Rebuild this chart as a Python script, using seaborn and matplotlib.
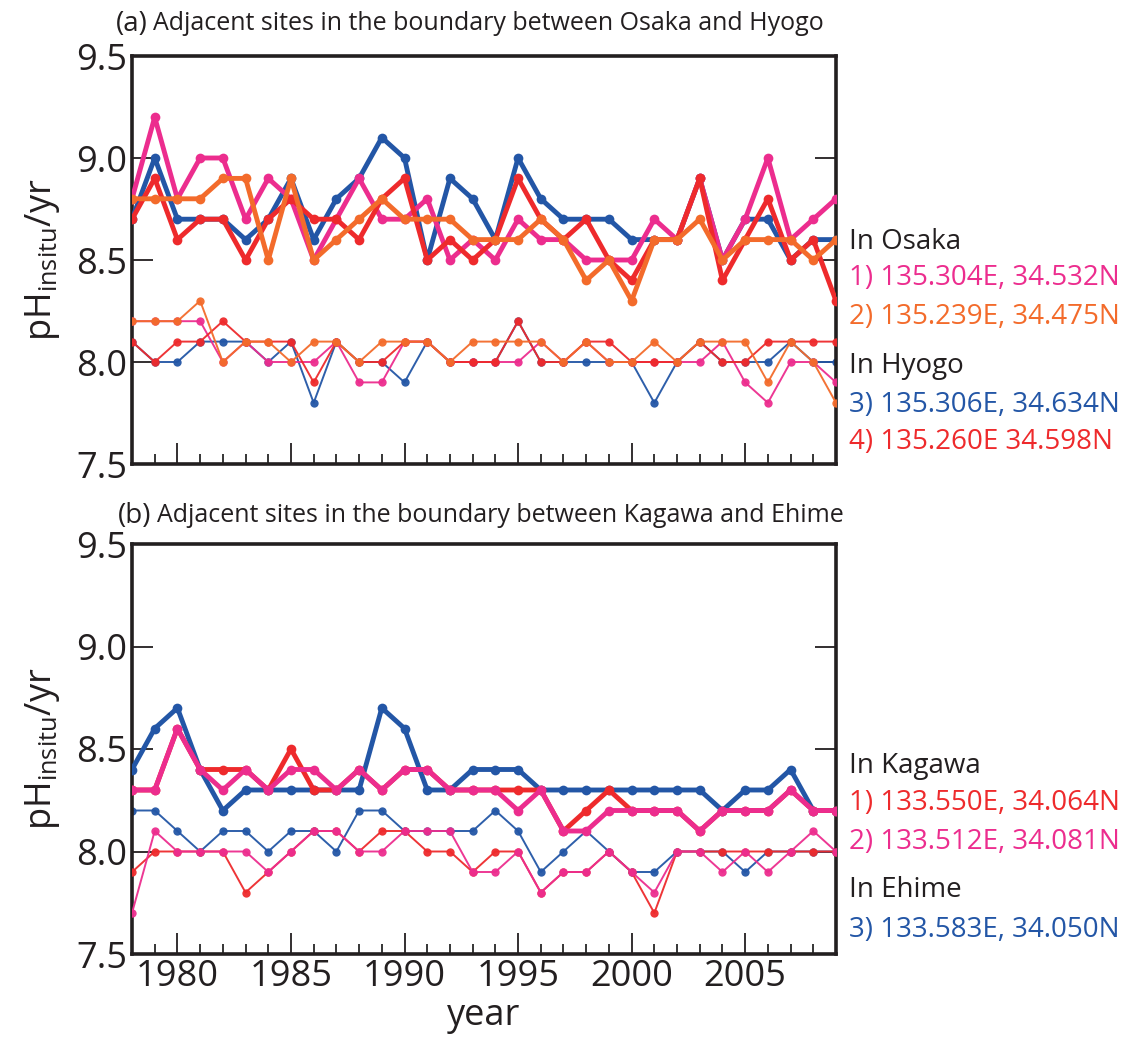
import numpy as np
import pandas as pd
import matplotlib
matplotlib.use("Agg")
import matplotlib.pyplot as plt
import seaborn as sns
from matplotlib.ticker import MultipleLocator

years = list(range(1978, 2010))

# ---- (a) Osaka / Hyogo boundary: upper (max) and lower (min) pH series ----
osaka1_max = [8.8, 9.2, 8.8, 9.0, 9.0, 8.7, 8.9, 8.8, 8.5, 8.7,
              8.9, 8.7, 8.7, 8.8, 8.5, 8.6, 8.5, 8.7, 8.6, 8.6,
              8.5, 8.5, 8.5, 8.7, 8.6, 8.9, 8.5, 8.7, 9.0, 8.6, 8.7, 8.8]
osaka2_max = [8.8, 8.8, 8.8, 8.8, 8.9, 8.9, 8.5, 8.9, 8.5, 8.6,
              8.7, 8.8, 8.7, 8.7, 8.7, 8.6, 8.6, 8.6, 8.7, 8.6,
              8.4, 8.5, 8.3, 8.6, 8.6, 8.7, 8.5, 8.6, 8.6, 8.6, 8.5, 8.6]
hyogo3_max = [8.7, 9.0, 8.7, 8.7, 8.7, 8.6, 8.7, 8.9, 8.6, 8.8,
              8.9, 9.1, 9.0, 8.5, 8.9, 8.8, 8.6, 9.0, 8.8, 8.7,
              8.7, 8.7, 8.6, 8.6, 8.6, 8.9, 8.5, 8.7, 8.7, 8.5, 8.6, 8.6]
hyogo4_max = [8.7, 8.9, 8.6, 8.7, 8.7, 8.5, 8.7, 8.8, 8.7, 8.7,
              8.6, 8.8, 8.9, 8.5, 8.6, 8.5, 8.6, 8.9, 8.7, 8.6,
              8.7, 8.5, 8.4, 8.6, 8.6, 8.9, 8.4, 8.6, 8.8, 8.5, 8.6, 8.3]

osaka1_min = [8.2, 8.2, 8.2, 8.2, 8.0, 8.1, 8.0, 8.0, 8.0, 8.1,
              7.9, 7.9, 8.1, 8.1, 8.0, 8.0, 8.0, 8.0, 8.1, 8.0,
              8.1, 8.0, 8.0, 8.0, 8.0, 8.0, 8.1, 7.9, 7.8, 8.0, 8.0, 7.9]
osaka2_min = [8.2, 8.2, 8.2, 8.3, 8.0, 8.1, 8.1, 8.0, 8.1, 8.1,
              8.0, 8.1, 8.1, 8.1, 8.0, 8.1, 8.1, 8.1, 8.1, 8.0,
              8.1, 8.0, 8.0, 8.1, 8.0, 8.1, 8.1, 8.1, 7.9, 8.1, 8.0, 7.8]
hyogo3_min = [8.1, 8.0, 8.0, 8.1, 8.1, 8.1, 8.0, 8.1, 7.8, 8.1,
              8.0, 8.0, 7.9, 8.1, 8.0, 8.0, 8.0, 8.2, 8.0, 8.0,
              8.0, 8.0, 8.0, 7.8, 8.0, 8.1, 8.0, 8.0, 8.0, 8.1, 8.0, 8.0]
hyogo4_min = [8.1, 8.0, 8.1, 8.1, 8.2, 8.1, 8.1, 8.1, 7.9, 8.1,
              8.0, 8.0, 8.1, 8.1, 8.0, 8.0, 8.0, 8.2, 8.0, 8.0,
              8.1, 8.1, 8.0, 8.0, 8.0, 8.1, 8.0, 8.0, 8.1, 8.1, 8.1, 8.1]

# ---- (b) Kagawa / Ehime boundary ----
kagawa1_max = [8.3, 8.3, 8.6, 8.4, 8.4, 8.4, 8.3, 8.5, 8.3, 8.3,
               8.4, 8.3, 8.4, 8.4, 8.3, 8.3, 8.3, 8.3, 8.3, 8.1,
               8.2, 8.3, 8.2, 8.2, 8.2, 8.1, 8.2, 8.2, 8.2, 8.3, 8.2, 8.2]
kagawa2_max = [8.3, 8.3, 8.6, 8.4, 8.3, 8.4, 8.3, 8.4, 8.4, 8.3,
               8.4, 8.3, 8.4, 8.4, 8.3, 8.3, 8.3, 8.2, 8.3, 8.1,
               8.1, 8.2, 8.2, 8.2, 8.2, 8.1, 8.2, 8.2, 8.2, 8.3, 8.2, 8.2]
ehime3_max = [8.4, 8.6, 8.7, 8.4, 8.2, 8.3, 8.3, 8.3, 8.3, 8.3,
              8.3, 8.7, 8.6, 8.3, 8.3, 8.4, 8.4, 8.4, 8.3, 8.3,
              8.3, 8.3, 8.3, 8.3, 8.3, 8.3, 8.2, 8.3, 8.3, 8.4, 8.2, 8.2]

kagawa1_min = [7.9, 8.0, 8.0, 8.0, 8.0, 7.8, 7.9, 8.0, 8.1, 8.1,
               8.0, 8.1, 8.1, 8.0, 8.0, 7.9, 8.0, 8.0, 7.8, 7.9,
               7.9, 8.0, 7.9, 7.7, 8.0, 8.0, 8.0, 8.0, 8.0, 8.0, 8.0, 8.0]
kagawa2_min = [7.7, 8.1, 8.0, 8.0, 8.0, 8.0, 7.9, 8.0, 8.1, 8.1,
               8.0, 8.0, 8.1, 8.1, 8.1, 7.9, 7.9, 8.0, 7.8, 7.9,
               7.9, 8.0, 7.9, 7.8, 8.0, 8.0, 7.9, 8.0, 7.9, 8.0, 8.1, 8.0]
ehime3_min = [8.2, 8.2, 8.1, 8.0, 8.1, 8.1, 8.0, 8.1, 8.1, 8.0,
              8.2, 8.2, 8.1, 8.1, 8.1, 8.1, 8.2, 8.1, 7.9, 8.0,
              8.1, 8.0, 7.9, 7.9, 8.0, 8.0, 8.0, 7.9, 8.0, 8.0, 8.0, 8.0]

PINK = "#ec2d8e"
ORANGE = "#f36b2b"
BLUE = "#2356a6"
RED = "#ee2a2c"
INK = "#231f20"

sns.set_style("ticks")
FONT = ["Open Sans", "DejaVu Sans"]
plt.rcParams["font.family"] = FONT
plt.rcParams["mathtext.fontset"] = "custom"
plt.rcParams["mathtext.rm"] = "Open Sans"
plt.rcParams["mathtext.it"] = "Open Sans:italic"

W, H = 1134, 1044
fig = plt.figure(figsize=(W / 100, H / 100), dpi=100)


def px_axes(left, top, right, bottom):
    return fig.add_axes([left / W, 1 - bottom / H, (right - left) / W, (bottom - top) / H])


def draw(ax, vals, color, thick, z):
    df = pd.DataFrame({"year": years, "pH": vals})
    if thick:
        sns.lineplot(data=df, x="year", y="pH", ax=ax, color=color, lw=3.5,
                     marker="o", markersize=7, markeredgewidth=0, zorder=z)
    else:
        sns.lineplot(data=df, x="year", y="pH", ax=ax, color=color, lw=1.4,
                     marker="o", markersize=6, markeredgewidth=0, zorder=z,
                     alpha=0.95)


def style(ax, show_x):
    ax.set_xlim(1978, 2009)
    ax.set_ylim(7.5, 9.5)
    ax.yaxis.set_major_locator(MultipleLocator(0.5))
    ax.xaxis.set_major_locator(MultipleLocator(5))
    ax.xaxis.set_minor_locator(MultipleLocator(1))
    ax.tick_params(axis="both", which="major", direction="in", length=15,
                   width=1.3, labelsize=26, colors=INK)
    ax.tick_params(axis="x", which="minor", direction="in", length=7,
                   width=1.3, bottom=True)
    ax.tick_params(axis="y", right=True)
    ax.yaxis.set_major_formatter(matplotlib.ticker.FormatStrFormatter("%.1f"))
    for s in ax.spines.values():
        s.set_visible(True)
        s.set_linewidth(2.6)
        s.set_color(INK)
    ax.set_ylabel(r"pH$_{\mathrm{insitu}}$/yr", fontsize=26, labelpad=10, color=INK)
    if show_x:
        ax.set_xlabel("year", fontsize=26, labelpad=2, color=INK)
    else:
        ax.set_xlabel("")
        ax.tick_params(axis="x", labelbottom=False)


# (a)
ax1 = px_axes(132, 56, 836, 464)
for vals, col, z in [(hyogo3_min, BLUE, 2), (osaka1_min, PINK, 3),
                     (hyogo4_min, RED, 4), (osaka2_min, ORANGE, 5)]:
    draw(ax1, vals, col, False, z)
for vals, col, z in [(hyogo3_max, BLUE, 6), (osaka1_max, PINK, 7),
                     (hyogo4_max, RED, 8), (osaka2_max, ORANGE, 9)]:
    draw(ax1, vals, col, True, z)
style(ax1, False)

# (b)
ax2 = px_axes(132, 544, 836, 954)
for vals, col, z in [(ehime3_min, BLUE, 2), (kagawa1_min, RED, 3),
                     (kagawa2_min, PINK, 4)]:
    draw(ax2, vals, col, False, z)
for vals, col, z in [(ehime3_max, BLUE, 6), (kagawa1_max, RED, 7),
                     (kagawa2_max, PINK, 8)]:
    draw(ax2, vals, col, True, z)
style(ax2, True)

# panel titles
fig.text(116 / W, 1 - 24 / H, "(a)", fontsize=20, va="center", ha="left", color=INK)
fig.text(153 / W, 1 - 24 / H, "Adjacent sites in the boundary between Osaka and Hyogo",
         fontsize=18, va="center", ha="left", color=INK)
fig.text(118 / W, 1 - 516 / H, "(b)", fontsize=20, va="center", ha="left", color=INK)
fig.text(157 / W, 1 - 516 / H, "Adjacent sites in the boundary between Kagawa and Ehime",
         fontsize=18, va="center", ha="left", color=INK)

# site annotations
notes = [
    (242, "In Osaka", INK),
    (278, "1) 135.304E, 34.532N", PINK),
    (317, "2) 135.239E, 34.475N", ORANGE),
    (366, "In Hyogo", INK),
    (405, "3) 135.306E, 34.634N", BLUE),
    (442, "4) 135.260E 34.598N", RED),
    (766, "In Kagawa", INK),
    (803, "1) 133.550E, 34.064N", RED),
    (842, "2) 133.512E, 34.081N", PINK),
    (890, "In Ehime", INK),
    (930, "3) 133.583E, 34.050N", BLUE),
]
for y, txt, col in notes:
    fig.text(849 / W, 1 - y / H, txt, fontsize=20, color=col, va="center", ha="left")

fig.savefig("out.png", dpi=100)
